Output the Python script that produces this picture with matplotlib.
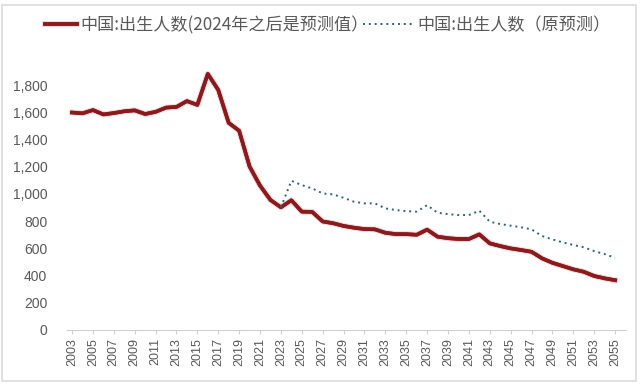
import matplotlib
matplotlib.use("Agg")
import matplotlib.pyplot as plt
import matplotlib.patheffects as pe
from matplotlib.ticker import FuncFormatter

plt.rcParams['font.family'] = ['Noto Sans CJK SC', 'DejaVu Sans']

# births, 10k people (2024 onward = forecast)
years = list(range(2003, 2056))
births = [1599, 1593, 1617, 1585, 1595, 1608, 1615, 1588, 1604, 1635,
          1640, 1683, 1655, 1883, 1765, 1523, 1465, 1202, 1062, 956,
          902, 954, 870, 868, 798, 785, 765, 752, 742, 740,
          715, 705, 705, 700, 738, 686, 675, 669, 669, 703,
          637, 617, 600, 588, 575, 527, 494, 470, 446, 428,
          397, 380, 366]

# old forecast
orig_years = list(range(2023, 2056))
orig_births = [902, 1097, 1065, 1041, 1004, 997, 972, 943, 931, 931,
               894, 882, 874, 870, 918, 862, 852, 845, 845, 877,
               796, 779, 767, 755, 740, 691, 666, 644, 625, 608,
               580, 558, 531]

label_new = "中国:出生人数(2024年之后是预测值）"
label_old = "中国:出生人数（原预测）"
xtick_years = list(range(2003, 2056, 2))
yticks = list(range(0, 2000, 200))

fig = plt.figure(figsize=(6.4, 3.86), dpi=100)
ax = fig.add_axes([0.1044, 0.1451, 0.873, 0.7047])

l1, = ax.plot(years, births, color='#8B1A1F', lw=2.6, solid_joinstyle='round',
              label=label_new, zorder=2,
              path_effects=[pe.withStroke(linewidth=4.2, foreground='#f6d4d4'), pe.Normal()])
l2, = ax.plot(orig_years, orig_births, color='#2E6373', lw=1.4, ls=(0, (1, 2)),
              label=label_old, zorder=3)

ax.set_xlim(2002.5, 2056)
ax.set_ylim(0, 2000)
ax.set_xticks(xtick_years)
ax.set_xticklabels([str(y) for y in xtick_years], rotation=90,
                   fontsize=9, color='#595959', family='Liberation Sans')
ax.set_yticks(yticks)
ax.yaxis.set_major_formatter(FuncFormatter(lambda v, p: f"{int(v):,}"))
for t in ax.get_yticklabels():
    t.set_fontsize(10)
    t.set_color('#595959')
    t.set_family('Liberation Sans')

for s in ['top', 'right', 'left']:
    ax.spines[s].set_visible(False)
ax.spines['bottom'].set_color('#d0d0d0')
ax.tick_params(axis='y', length=0, pad=14)
ax.tick_params(axis='x', length=3, color='#d0d0d0', pad=3)

# two legend entries, different handle lengths like the original
leg_kw = dict(loc='center left', frameon=False, fontsize=12.3, handletextpad=0.2,
              borderpad=0, borderaxespad=0, labelcolor='#595959')
fig.legend(handles=[l1], handlelength=1.9, bbox_to_anchor=(0.07, 0.935), **leg_kw)
fig.legend(handles=[l2], handlelength=3.0, bbox_to_anchor=(0.567, 0.935), **leg_kw)

# light frame around the picture
fig.patches.append(plt.Rectangle((0.003, 0.012), 0.99, 0.975, transform=fig.transFigure,
                                 fill=False, edgecolor='#dcdcdc', lw=1.2))

fig.savefig("out.png", dpi=100)
